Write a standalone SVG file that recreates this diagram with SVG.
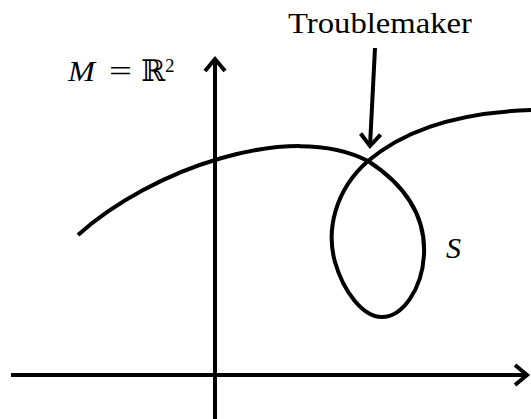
<svg xmlns="http://www.w3.org/2000/svg" width="531" height="419" viewBox="0 0 531 419">
<style>
.ln{fill:none;stroke:#000;stroke-width:4;stroke-linecap:butt}
.tx{font-family:"Liberation Serif","DejaVu Serif",serif;fill:#000}
</style>
<defs>
<marker id="chev" markerUnits="userSpaceOnUse" viewBox="-14 -12 16 24" markerWidth="16" markerHeight="24" refX="0" refY="0" orient="auto" overflow="visible">
<path d="M-12,-10 L0,0 L-12,10" fill="none" stroke="#000" stroke-width="4" stroke-linejoin="miter"/>
</marker>
</defs>
<g id="connectors">
<line class="ln" x1="11" y1="375" x2="527" y2="375" marker-end="url(#chev)"/>
<line class="ln" x1="215" y1="419" x2="215" y2="59" marker-end="url(#chev)"/>
<line class="ln" x1="375" y1="48" x2="370" y2="146" marker-end="url(#chev)"/>
</g>
<g id="curve">
<path class="ln" d="M78,235 C150,170 290,120 368,161 C405,185 426,215 424,255 C422,290 402,317 382,317 C362,317 343,290 335,262 C326,230 335,190 368,161 C410,125 470,112 531,110"/>
</g>
<g id="labels">
<text class="tx" x="288" y="33" font-size="29" textLength="184" lengthAdjust="spacingAndGlyphs">Troublemaker</text>
<text class="tx" x="68" y="81" font-size="30" font-style="italic" textLength="27" lengthAdjust="spacingAndGlyphs">M</text>
<text class="tx" x="109" y="81" font-size="30" textLength="23" lengthAdjust="spacingAndGlyphs">=</text>
<text class="tx" x="141" y="81" font-size="30" textLength="24" lengthAdjust="spacingAndGlyphs">ℝ</text>
<text class="tx" x="165" y="72" font-size="19">2</text>
<text class="tx" x="446" y="258" font-size="30" font-style="italic">S</text>
</g>
</svg>
